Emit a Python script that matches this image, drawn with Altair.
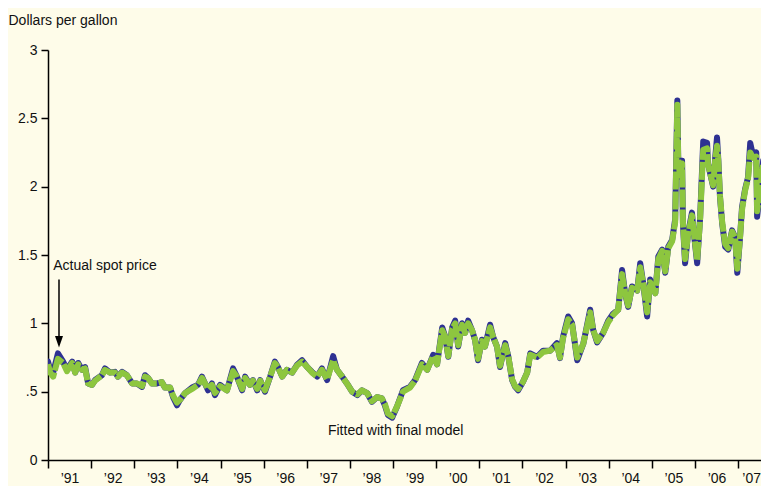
import altair as alt
import pandas as pd

# ---- data ----
years = [1991.00,1991.05,1991.12,1991.23,1991.35,1991.44,1991.56,1991.63,1991.70,1991.79,1991.86,1991.93,
         1992.02,1992.09,1992.25,1992.32,1992.44,1992.55,1992.62,1992.72,1992.83,1992.95,
         1993.06,1993.18,1993.25,1993.32,1993.41,1993.53,1993.64,1993.71,1993.83,1993.90,1993.99,
         1994.06,1994.18,1994.34,1994.48,1994.57,1994.64,1994.71,1994.80,1994.87,1994.99,
         1995.15,1995.29,1995.38,1995.50,1995.57,1995.68,1995.75,1995.85,1995.92,
         1996.03,1996.15,1996.26,1996.33,1996.43,1996.54,1996.66,1996.77,1996.89,
         1997.01,1997.12,1997.24,1997.35,1997.47,1997.61,1997.70,1997.82,1997.93,
         1998.05,1998.17,1998.28,1998.40,1998.51,1998.63,1998.74,1998.81,1998.88,1998.98,
         1999.09,1999.23,1999.39,1999.51,1999.67,1999.79,1999.93,
         2000.02,2000.14,2000.21,2000.28,2000.37,2000.44,2000.51,2000.60,2000.67,2000.74,2000.83,2000.90,2000.97,
         2001.06,2001.13,2001.25,2001.32,2001.41,2001.48,2001.60,2001.67,2001.76,2001.83,2001.90,
         2002.01,2002.11,2002.18,2002.34,2002.48,2002.64,2002.80,2002.87,2002.94,
         2003.06,2003.15,2003.27,2003.41,2003.57,2003.64,2003.73,2003.87,2003.99,
         2004.10,2004.22,2004.31,2004.38,2004.45,2004.54,2004.66,2004.73,2004.80,2004.89,2004.96,
         2005.08,2005.15,2005.24,2005.31,2005.38,2005.47,2005.54,2005.59,2005.61,2005.66,2005.70,2005.72,2005.77,2005.84,2005.93,2005.96,
         2006.05,2006.12,2006.19,2006.28,2006.30,2006.35,2006.42,2006.47,2006.51,2006.54,2006.58,2006.63,2006.70,2006.77,2006.86,2006.93,2006.98,
         2007.04,2007.09,2007.16,2007.23,2007.28,2007.35,2007.42,2007.44,2007.51,2007.58,2007.67,2007.72]

actual = [0.72,0.66,0.64,0.78,0.72,0.66,0.72,0.64,0.71,0.66,0.68,0.56,
          0.55,0.585,0.62,0.67,0.64,0.645,0.61,0.645,0.62,0.56,
          0.56,0.535,0.62,0.60,0.56,0.56,0.57,0.53,0.53,0.46,0.40,
          0.44,0.49,0.53,0.55,0.61,0.56,0.51,0.56,0.475,0.55,
          0.51,0.67,0.61,0.51,0.61,0.55,0.585,0.51,0.585,
          0.50,0.61,0.72,0.68,0.61,0.66,0.64,0.695,0.73,
          0.68,0.645,0.61,0.67,0.585,0.76,0.66,0.61,0.56,
          0.50,0.475,0.51,0.49,0.425,0.46,0.45,0.40,0.33,0.31,
          0.39,0.51,0.535,0.585,0.71,0.66,0.77,
          0.70,0.97,0.90,0.755,0.97,1.02,0.83,1.00,0.93,1.02,0.95,0.88,0.73,
          0.88,0.83,0.99,0.90,0.83,0.68,0.855,0.76,0.585,0.535,0.51,
          0.57,0.64,0.78,0.755,0.80,0.80,0.855,0.745,0.90,
          1.05,1.00,0.73,0.85,1.10,0.95,0.86,0.93,1.02,
          1.07,1.10,1.39,1.22,1.12,1.27,1.24,1.44,1.29,1.05,1.32,
          1.22,1.49,1.54,1.37,1.56,1.61,1.76,2.63,2.22,2.07,2.19,1.73,1.44,1.66,1.81,1.70,
          1.44,1.78,2.33,2.32,2.17,2.10,2.00,2.22,2.36,2.20,1.92,1.73,1.56,1.54,1.68,1.63,1.37,
          1.61,1.85,1.98,2.07,2.32,2.22,2.25,1.78,1.98,2.19,2.12,2.17]

fitted = [0.70,0.64,0.61,0.74,0.71,0.65,0.71,0.64,0.70,0.66,0.67,0.56,
          0.55,0.58,0.62,0.66,0.64,0.64,0.61,0.64,0.62,0.56,
          0.56,0.54,0.61,0.60,0.56,0.56,0.57,0.53,0.53,0.47,0.42,
          0.44,0.49,0.52,0.55,0.60,0.56,0.52,0.55,0.49,0.54,
          0.51,0.65,0.61,0.52,0.60,0.55,0.58,0.52,0.58,
          0.51,0.61,0.71,0.68,0.61,0.66,0.64,0.69,0.72,
          0.68,0.64,0.61,0.66,0.59,0.73,0.66,0.61,0.56,
          0.50,0.48,0.51,0.49,0.43,0.46,0.45,0.41,0.34,0.32,
          0.39,0.50,0.53,0.58,0.70,0.66,0.76,
          0.70,0.95,0.90,0.76,0.96,1.00,0.84,0.99,0.93,1.00,0.95,0.88,0.74,
          0.87,0.83,0.97,0.90,0.83,0.69,0.84,0.76,0.59,0.54,0.52,
          0.57,0.64,0.77,0.75,0.79,0.80,0.84,0.75,0.89,
          1.03,0.99,0.75,0.85,1.08,0.95,0.87,0.93,1.01,
          1.06,1.10,1.36,1.22,1.13,1.26,1.24,1.41,1.29,1.08,1.30,
          1.22,1.47,1.53,1.38,1.55,1.60,1.74,2.60,2.20,2.06,2.17,1.74,1.47,1.65,1.79,1.70,
          1.46,1.77,2.27,2.28,2.17,2.10,2.01,2.20,2.30,2.19,1.93,1.74,1.58,1.55,1.67,1.63,1.40,
          1.61,1.83,1.97,2.06,2.25,2.21,2.22,1.82,1.98,2.17,2.12,2.17]

year_ticks = list(range(1991, 2008))
y_ticks = [0, 0.5, 1, 1.5, 2, 2.5, 3]

ann_text = ["Actual spot price", "Fitted with final model"]
ann_x = [1991.12, 1997.49]
ann_y = [1.39, 0.185]

arrow_x = [1991.255]
arrow_top = [1.32]
arrow_bottom = [0.90]
arrow_tip = [0.865]

FONT = "Liberation Sans"
FS = 14
BG = "#FEFCE9"
BLUE = "#2E3192"
GREEN = "#8DC63F"

df_a = pd.DataFrame({"year": years, "price": actual})
df_f = pd.DataFrame({"year": years, "price": fitted})
df_ann = pd.DataFrame({"year": ann_x, "price": ann_y, "label": ann_text})
df_arrow = pd.DataFrame({"year": arrow_x, "top": arrow_top, "bottom": arrow_bottom, "tip": arrow_tip})

xscale = alt.Scale(domain=[1991, 2007.53], nice=False, zero=False)
yscale = alt.Scale(domain=[0, 3], nice=False)

xaxis = alt.Axis(values=year_ticks, title=None, grid=False,
                 labelExpr="'\u2019' + substring(toString(datum.value), 2)",
                 labelOffset={"condition": {"test": "datum.value >= 2007", "value": 13},
                              "value": 21.5},
                 labelFlush=False, labelOverlap=False,
                 tickSize=8, tickColor="black", tickWidth=1.5,
                 domainColor="black", domainWidth=1.5,
                 labelFont=FONT, labelFontSize=FS, labelColor="#111",
                 labelPadding=3)
yaxis = alt.Axis(values=y_ticks, grid=False,
                 labelExpr="datum.value == 0.5 ? '.5' : toString(datum.value)",
                 tickSize=7, tickColor="black", tickWidth=1.5,
                 domainColor="black", domainWidth=1.5,
                 labelFont=FONT, labelFontSize=FS, labelColor="#111",
                 labelPadding=4,
                 title="Dollars per gallon", titleAngle=0, titleX=-40, titleY=-26,
                 titleAlign="left", titleBaseline="alphabetic",
                 titleFont=FONT, titleFontSize=FS, titleFontWeight="normal",
                 titleColor="#111")

blue = alt.Chart(df_a).mark_line(color=BLUE, strokeWidth=6, strokeJoin="round", strokeCap="round",
                                 clip=True).encode(
    x=alt.X("year:Q", scale=xscale, axis=xaxis),
    y=alt.Y("price:Q", scale=yscale, axis=yaxis),
)
green = alt.Chart(df_f).mark_line(color=GREEN, strokeWidth=6, strokeJoin="round",
                                  strokeDash=[18, 2], clip=True).encode(
    x=alt.X("year:Q", scale=xscale),
    y=alt.Y("price:Q", scale=yscale),
)
texts = alt.Chart(df_ann).mark_text(align="left", baseline="alphabetic", font=FONT,
                                    fontSize=FS, color="#111").encode(
    x=alt.X("year:Q", scale=xscale),
    y=alt.Y("price:Q", scale=yscale),
    text="label:N",
)
arrow_line = alt.Chart(df_arrow).mark_rule(color="black", strokeWidth=1.5).encode(
    x=alt.X("year:Q", scale=xscale),
    y=alt.Y("top:Q", scale=yscale),
    y2="bottom:Q",
)
arrow_head = alt.Chart(df_arrow).mark_point(shape="M-0.7,-1L0.7,-1L0,1Z", filled=True,
                                            color="black", opacity=1, size=130).encode(
    x=alt.X("year:Q", scale=xscale),
    y=alt.Y("tip:Q", scale=yscale),
)

chart = alt.layer(blue, green, texts, arrow_line, arrow_head).properties(
    width=713, height=410,
    autosize=alt.AutoSizeParams(type="none"),
    padding={"left": 40, "top": 42, "right": 0, "bottom": 26},
    background=BG,
).configure_view(stroke=None)

chart.save("out.html", embed_options={"renderer": "svg", "actions": False})
